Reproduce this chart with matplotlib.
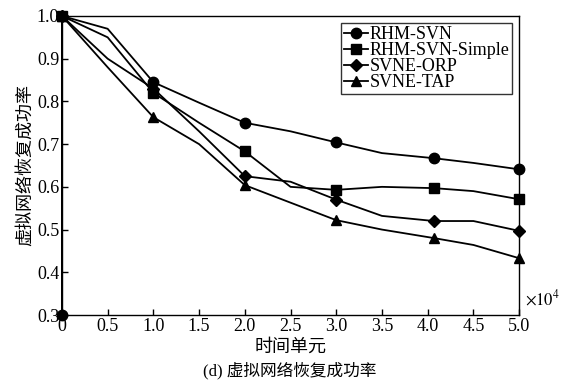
import numpy as np
import matplotlib
matplotlib.use('Agg')
import matplotlib.pyplot as plt

plt.rcParams['font.family'] = ['Liberation Serif', 'Noto Sans CJK SC']
plt.rcParams['mathtext.fontset'] = 'stix'

# x in units of 1e4 time units; second point at x=0 is the jump to 1.0
x = [0, 0, 0.5, 1.0, 1.5, 2.0, 2.5, 3.0, 3.5, 4.07, 4.5, 5.0]
rhm_svn = [0.3, 1.0, 0.97, 0.845, 0.797, 0.75, 0.73, 0.704, 0.679, 0.667, 0.656, 0.641]
rhm_simple = [0.3, 1.0, 0.95, 0.82, 0.75, 0.683, 0.60, 0.593, 0.60, 0.597, 0.59, 0.571]
svne_orp = [0.3, 1.0, 0.90, 0.83, 0.73, 0.625, 0.612, 0.57, 0.532, 0.52, 0.52, 0.497]
svne_tap = [0.3, 1.0, 0.88, 0.763, 0.70, 0.604, 0.563, 0.522, 0.50, 0.48, 0.464, 0.433]

series = [
    ('SVNE-TAP', svne_tap, '^'),
    ('SVNE-ORP', svne_orp, 'D'),
    ('RHM-SVN-Simple', rhm_simple, 's'),
    ('RHM-SVN', rhm_svn, 'o'),
]

fig = plt.figure(figsize=(5.68, 3.8), dpi=100)
ax = fig.add_axes([0.109, 0.171, 0.805, 0.787])

handles = {}
for naam, ys, m in series:
    ms = 6 if m == 'D' else 7.5
    if m == 'o':
        znaczniki = [0, 1, 3, 5, 7, 9, 11]
    else:
        znaczniki = [1, 3, 5, 7, 9, 11]
    h, = ax.plot(x, ys, color='black', lw=1.3, marker=m, markersize=ms,
                 markevery=znaczniki, label=naam, clip_on=False)
    handles[naam] = h

kolejnosc = ['RHM-SVN', 'RHM-SVN-Simple', 'SVNE-ORP', 'SVNE-TAP']
leg = ax.legend([handles[k] for k in kolejnosc], kolejnosc, loc='upper right',
                fontsize=13, handlelength=1.3, handletextpad=0.1,
                borderpad=0.15, labelspacing=-0.05, borderaxespad=0.4,
                fancybox=False, frameon=True, edgecolor='black')
leg.get_frame().set_linewidth(1.0)

ax.set_xlim(0, 5.0)
ax.set_ylim(0.3, 1.0)
xt = np.arange(0, 5.01, 0.5)
ax.set_xticks(xt)
ax.set_xticklabels(['0'] + [f'{v:.1f}' for v in xt[1:]])
yt = np.arange(0.3, 1.001, 0.1)
ax.set_yticks(yt)
ax.set_yticklabels([f'{v:.1f}' for v in yt])
ax.tick_params(direction='in', labelsize=13, length=4, width=1, pad=2)
for s in ax.spines.values():
    s.set_linewidth(1.0)

ax.text(1.012, 0.02, r'$\times 10^4$', transform=ax.transAxes, fontsize=12,
        ha='left', va='bottom')
ax.set_xlabel('时间单元', fontsize=13, labelpad=3)
ax.set_ylabel('虚拟网络恢复成功率', fontsize=13, labelpad=2)
fig.text(0.51, 0.002, '(d) 虚拟网络恢复成功率', fontsize=12, ha='center', va='bottom')

fig.savefig('out.png', dpi=100)
